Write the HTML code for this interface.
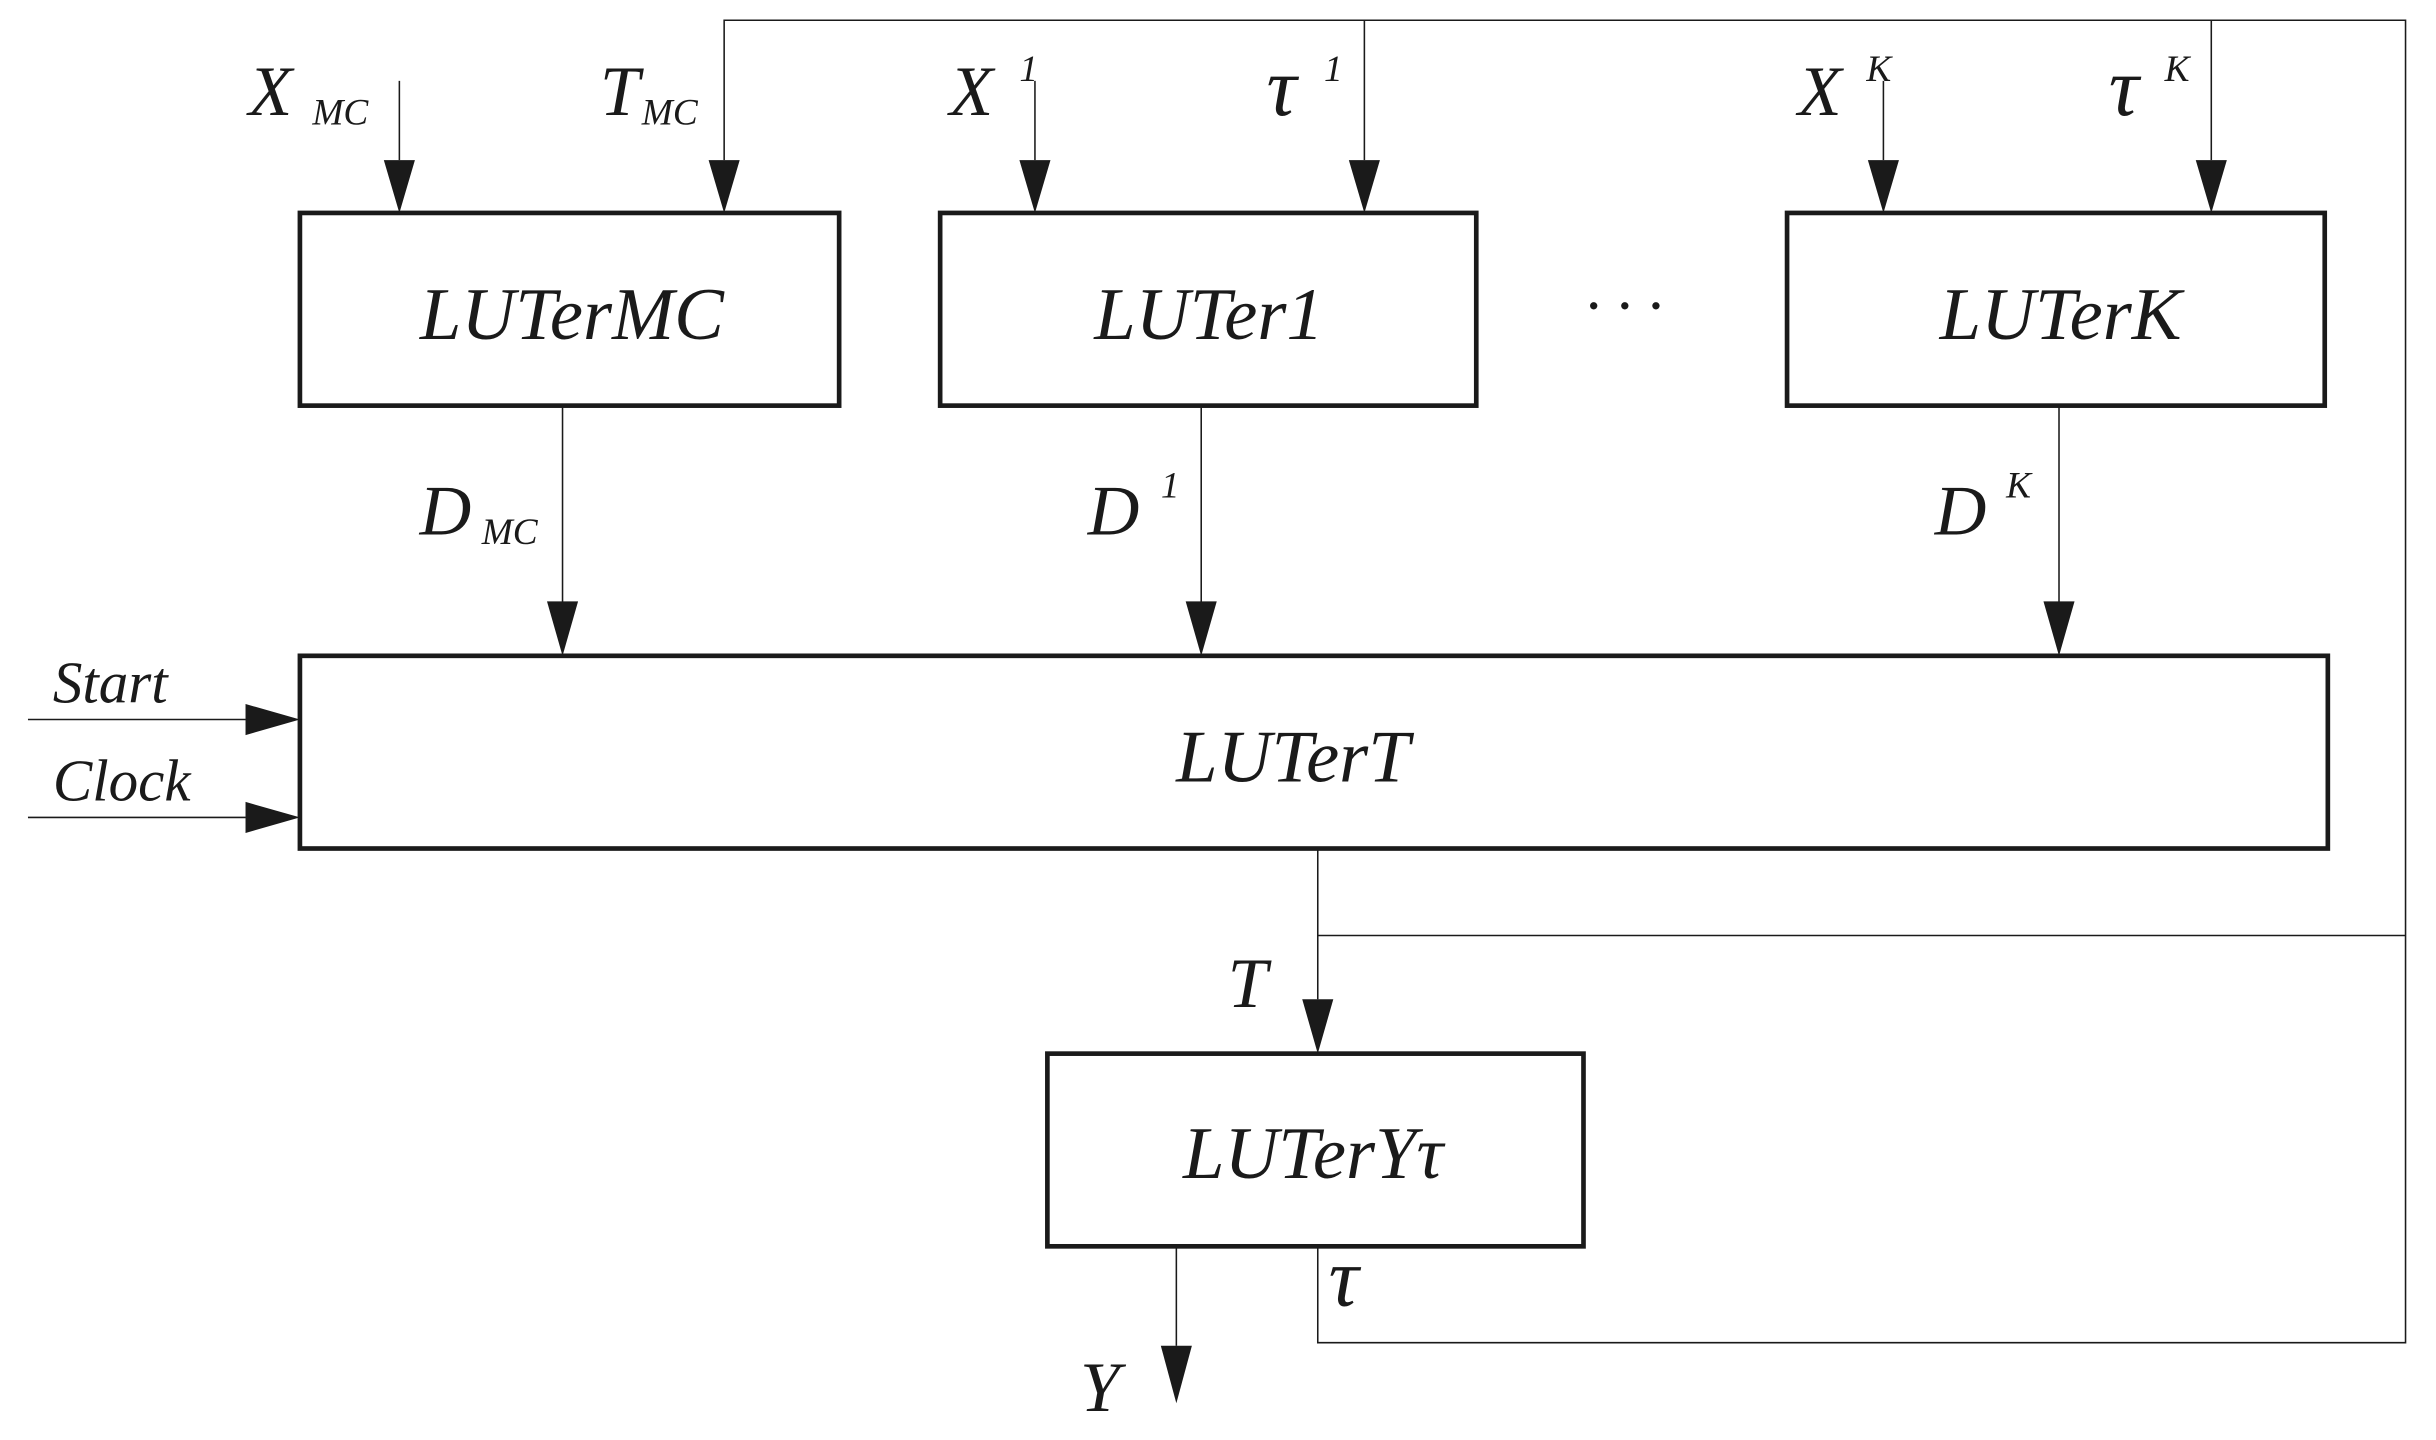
<!DOCTYPE html>
<html><head><meta charset="utf-8"><style>
html,body{margin:0;padding:0;background:#fff;}
svg{display:block;}
text{font-family:"Liberation Serif",serif;font-style:italic;fill:#1a1a1a;}
</style></head><body>
<svg width="2436" height="1440" viewBox="0 0 1567.6 926.6" xmlns="http://www.w3.org/2000/svg">
<g stroke="#1a1a1a" stroke-width="1" fill="none">
<!-- feedback loops -->
<polyline points="466,103 466,13 1548,13 1548,864 848,864 848,802"/>
<line x1="878" y1="13" x2="878" y2="103"/>
<line x1="1423" y1="13" x2="1423" y2="103"/>
<line x1="848" y1="546" x2="848" y2="643"/>
<line x1="848" y1="602" x2="1548" y2="602"/>
<line x1="257" y1="52" x2="257" y2="103"/>
<line x1="666" y1="52" x2="666" y2="103"/>
<line x1="1212" y1="52" x2="1212" y2="103"/>
<line x1="362" y1="261" x2="362" y2="388"/>
<line x1="773" y1="261" x2="773" y2="388"/>
<line x1="1325" y1="261" x2="1325" y2="388"/>
<line x1="18" y1="463" x2="158" y2="463"/>
<line x1="18" y1="526" x2="158" y2="526"/>
<line x1="757" y1="802" x2="757" y2="866"/>
</g>
<g stroke="#1a1a1a" stroke-width="3" fill="none">
<rect x="193" y="137" width="347" height="124"/>
<rect x="605" y="137" width="345" height="124"/>
<rect x="1150" y="137" width="346" height="124"/>
<rect x="193" y="422" width="1305" height="124"/>
<rect x="674" y="678" width="345" height="124"/>
</g>
<g fill="#1a1a1a">
<polygon points="247,103 267,103 257,137"/>
<polygon points="456,103 476,103 466,137"/>
<polygon points="656,103 676,103 666,137"/>
<polygon points="868,103 888,103 878,137"/>
<polygon points="1202,103 1222,103 1212,137"/>
<polygon points="1413,103 1433,103 1423,137"/>
<polygon points="352,387 372,387 362,422"/>
<polygon points="763,387 783,387 773,422"/>
<polygon points="1315,387 1335,387 1325,422"/>
<polygon points="838,643 858,643 848,678"/>
<polygon points="747,866 767,866 757,903"/>
<polygon points="158,453 158,473 193,463"/>
<polygon points="158,516 158,536 193,526"/>
</g>
<g font-size="48" text-anchor="middle">
<text x="368" y="218">LUTerMC</text>
<text x="778" y="218">LUTer1</text>
<text x="1326" y="218">LUTerK</text>
<text x="832" y="503">LUTerT</text>
<text x="845" y="758">LUTerYτ</text>
</g>
<text x="1020" y="210" font-size="40" font-style="normal">·  ·  ·</text>
<g font-size="46">
<text x="160" y="74" font-style="normal">X</text><text x="201" y="80" font-size="24">MC</text>
<text x="386" y="74">T</text><text x="413" y="80" font-size="24">MC</text>
<text x="611" y="74" font-style="normal">X</text><text x="656" y="52" font-size="24" font-style="normal">1</text>
<text x="815" y="74" font-size="54">τ</text><text x="852" y="52" font-size="24" font-style="normal">1</text>
<text x="1157" y="74" font-style="normal">X</text><text x="1201" y="52" font-size="24">K</text>
<text x="1357" y="74" font-size="54">τ</text><text x="1393" y="52" font-size="24" font-style="normal">K</text>
<text x="270" y="344">D</text><text x="310" y="350" font-size="24">MC</text>
<text x="700" y="344">D</text><text x="747" y="320" font-size="24" font-style="normal">1</text>
<text x="1245" y="344">D</text><text x="1291" y="320" font-size="24" font-style="normal">K</text>
<text x="790" y="648">T</text>
<text x="855" y="840" font-size="54">τ</text>
<text x="695" y="908">Y</text>
<text x="34" y="452" font-size="38">Start</text>
<text x="34" y="515" font-size="38">Clock</text>
</g>
</svg>
</body></html>
